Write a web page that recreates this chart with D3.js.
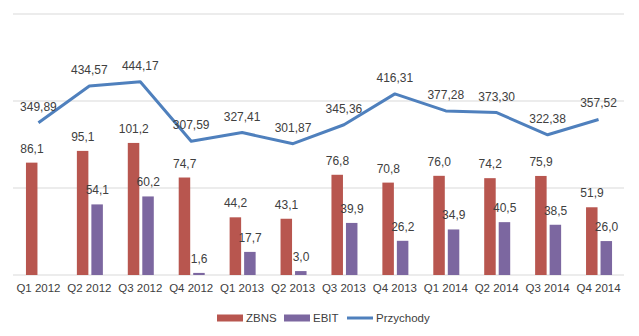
<!DOCTYPE html>
<html>
<head>
<meta charset="utf-8">
<script src="https://cdn.jsdelivr.net/npm/d3@7"></script>
<style>
  body { margin: 0; background: #fff; }
  text { font-family: "Liberation Sans", Arial, sans-serif; fill: #404040; }
</style>
</head>
<body>
<svg id="drawing_region"></svg>
<script>
const quarters = ["Q1 2012","Q2 2012","Q3 2012","Q4 2012","Q1 2013","Q2 2013","Q3 2013","Q4 2013","Q1 2014","Q2 2014","Q3 2014","Q4 2014"];
const zbns = [86.1, 95.1, 101.2, 74.7, 44.2, 43.1, 76.8, 70.8, 76.0, 74.2, 75.9, 51.9];
const ebit = [null, 54.1, 60.2, 1.6, 17.7, 3.0, 39.9, 26.2, 34.9, 40.5, 38.5, 26.0];
const przychody = [349.89, 434.57, 444.17, 307.59, 327.41, 301.87, 345.36, 416.31, 377.28, 373.30, 322.38, 357.52];
const lineTicks = [0, 200, 400, 600];

const colors = { zbns: "#B8564F", ebit: "#7C67A0", line: "#4F80BD" };
const fmt = (v, d) => v.toFixed(d).replace(".", ",");

const width = 639, height = 336;
const margin = { top: 14, right: 15, bottom: 61, left: 13 };
const innerW = width - margin.left - margin.right;
const innerH = height - margin.top - margin.bottom;

const svg = d3.select("#drawing_region")
    .attr("width", width)
    .attr("height", height);

const chart = svg.append("g")
    .attr("transform", `translate(${margin.left}, ${margin.top})`);

const xscale = d3.scaleBand().domain(quarters).range([0, innerW]);
const yline = d3.scaleLinear().domain([0, 600]).range([innerH, 0]);
const ybar = d3.scaleLinear().domain([0, 200]).range([innerH, 0]);

// gridlines
chart.selectAll(".grid")
    .data(lineTicks)
    .enter()
    .append("line")
    .attr("x1", 0).attr("x2", innerW)
    .attr("y1", d => yline(d)).attr("y2", d => yline(d))
    .attr("stroke", "#D9D9D9")
    .attr("stroke-width", 1);

// x axis labels
const xaxis = d3.axisBottom(xscale).tickSize(0).tickPadding(9);
const xg = chart.append("g")
    .attr("transform", `translate(0, ${innerH})`)
    .call(xaxis);
xg.select(".domain").remove();
xg.selectAll("text")
    .attr("font-size", "11.5px")
    .attr("font-family", "Liberation Sans, Arial, sans-serif")
    .attr("fill", "#404040");

const barW = 11.5;
const cx = d => xscale(d) + xscale.bandwidth() / 2;

// ZBNS bars
const zdata = quarters.map((q, i) => ({ q, v: zbns[i] }));
chart.selectAll(".zbns")
    .data(zdata)
    .enter()
    .append("rect")
    .attr("x", d => cx(d.q) - 12.5)
    .attr("y", d => ybar(d.v))
    .attr("width", barW)
    .attr("height", d => innerH - ybar(d.v))
    .attr("fill", colors.zbns);

chart.selectAll(".zbnsLabel")
    .data(zdata)
    .enter()
    .append("text")
    .attr("x", d => cx(d.q) - 6.5)
    .attr("y", d => ybar(d.v) - 10)
    .attr("text-anchor", "middle")
    .attr("font-size", "12px")
    .text(d => fmt(d.v, 1));

// EBIT bars
const edata = quarters.map((q, i) => ({ q, v: ebit[i] })).filter(d => d.v !== null);
chart.selectAll(".ebit")
    .data(edata)
    .enter()
    .append("rect")
    .attr("x", d => cx(d.q) + 2)
    .attr("y", d => ybar(d.v))
    .attr("width", barW)
    .attr("height", d => innerH - ybar(d.v))
    .attr("fill", colors.ebit);

chart.selectAll(".ebitLabel")
    .data(edata)
    .enter()
    .append("text")
    .attr("x", d => cx(d.q) + 8)
    .attr("y", d => ybar(d.v) - 10)
    .attr("text-anchor", "middle")
    .attr("font-size", "12px")
    .text(d => fmt(d.v, 1));

// Przychody line
const ldata = quarters.map((q, i) => ({ q, v: przychody[i] }));
const line = d3.line()
    .x(d => cx(d.q))
    .y(d => yline(d.v));

chart.append("path")
    .attr("d", line(ldata))
    .attr("stroke", colors.line)
    .attr("stroke-width", 3)
    .attr("stroke-linejoin", "round")
    .attr("fill", "none");

chart.selectAll(".lineLabel")
    .data(ldata)
    .enter()
    .append("text")
    .attr("x", d => cx(d.q))
    .attr("y", d => yline(d.v) - 12)
    .attr("text-anchor", "middle")
    .attr("font-size", "12px")
    .text(d => fmt(d.v, 2));

// legend
const legend = svg.append("g").attr("transform", "translate(217, 318)");
const items = [
    { name: "ZBNS", type: "bar", color: colors.zbns, x: 0 },
    { name: "EBIT", type: "bar", color: colors.ebit, x: 67 },
    { name: "Przychody", type: "line", color: colors.line, x: 130 }
];
items.forEach(it => {
    const g = legend.append("g").attr("transform", `translate(${it.x}, 0)`);
    if (it.type === "bar") {
        g.append("rect").attr("x", 0).attr("y", -3.5).attr("width", 26).attr("height", 7).attr("fill", it.color);
    } else {
        g.append("line").attr("x1", 0).attr("x2", 26).attr("y1", 0).attr("y2", 0)
            .attr("stroke", it.color).attr("stroke-width", 3);
    }
    g.append("text")
        .attr("x", 29)
        .attr("y", 4)
        .attr("font-size", "11.5px")
        .text(it.name);
});
</script>
</body>
</html>
